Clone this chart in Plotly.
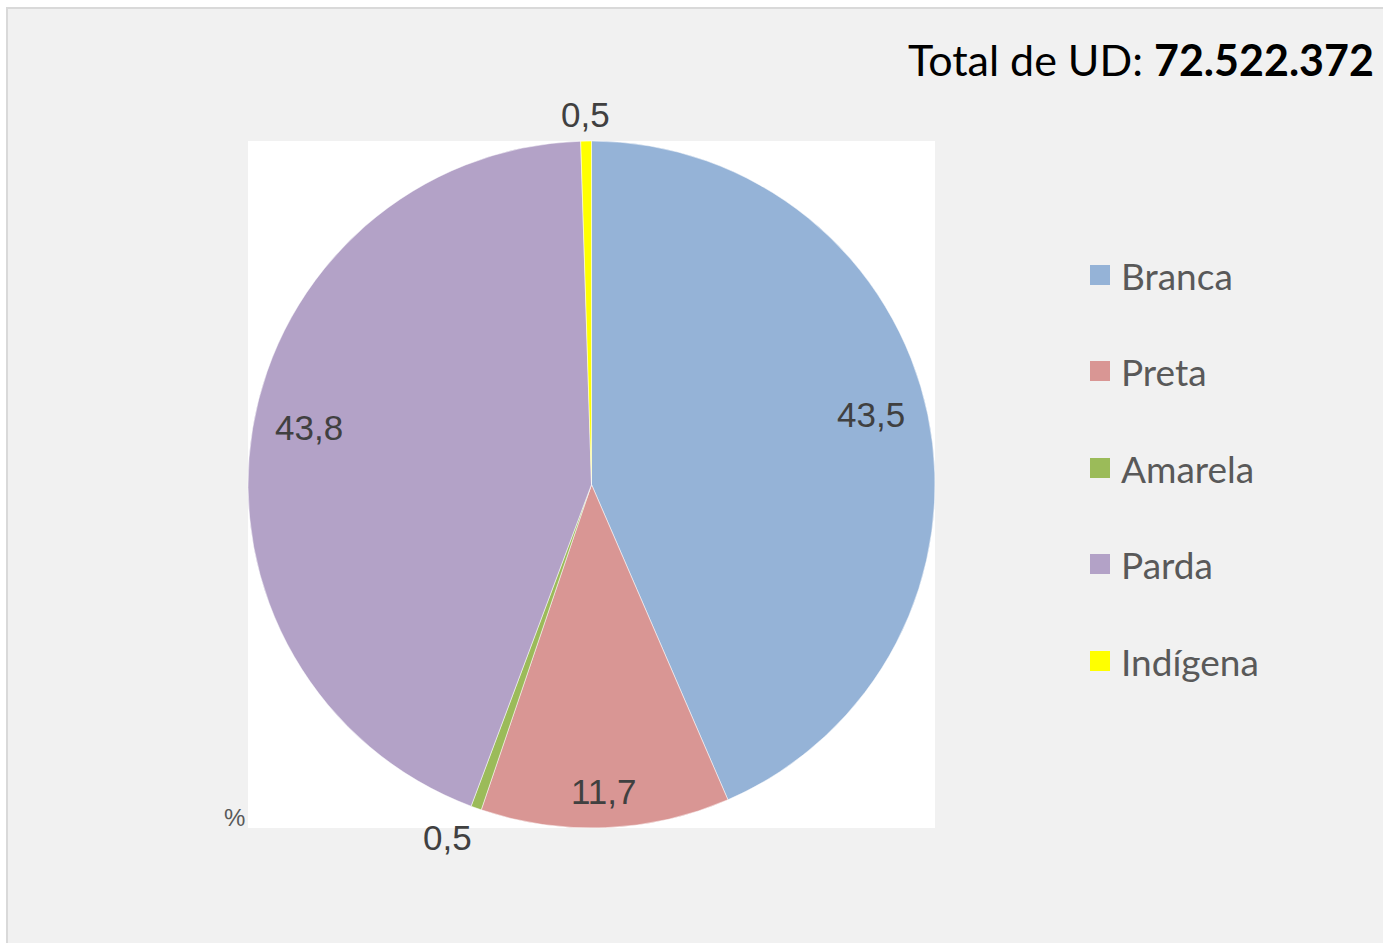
import math
import plotly.graph_objects as go

# ---- data ----
categories = ["Branca", "Preta", "Amarela", "Parda", "Indígena"]
values = [43.5, 11.7, 0.5, 43.8, 0.5]
value_labels = ["43,5", "11,7", "0,5", "43,8", "0,5"]
colors = ["#95b3d7", "#d99694", "#9bbb59", "#b3a2c7", "#ffff00"]
# data-label placement (style): radial factor and angular nudge in degrees
label_radius = [0.84, 0.895, 1.11, 0.84, 1.076]
label_nudge = [-2.3, 0.0, 2.5, 2.0, 0.0]
total_ud = "72.522.372"

W, H = 1383, 943
# pie box in page pixels
x0p, x1p, y0p, y1p = 248, 935, 141, 828

def px(x):
    return x / W

def py(y):
    return 1 - y / H

fig = go.Figure()
fig.add_trace(go.Pie(
    labels=categories,
    values=values,
    marker=dict(colors=colors, line=dict(color="white", width=0.5)),
    sort=False,
    direction="clockwise",
    rotation=0,
    textinfo="none",
    hoverinfo="label+value",
    showlegend=False,
    domain=dict(x=[px(x0p), px(x1p)], y=[py(y1p), py(y0p)]),
))

shapes = [
    # outer chart area
    dict(type="rect", xref="paper", yref="paper", x0=px(7), x1=1.05, y0=-0.05, y1=py(8),
         fillcolor="#f1f1f1", line=dict(color="#d9d9d9", width=2), layer="below"),
    # white plot area
    dict(type="rect", xref="paper", yref="paper", x0=px(x0p), x1=px(x1p), y0=py(y1p), y1=py(y0p),
         fillcolor="white", line=dict(width=0), layer="below"),
]

annotations = []
cx, cy = (x0p + x1p) / 2, (y0p + y1p) / 2
R = (x1p - x0p) / 2
tot = sum(values)
cum = 0
for v, lab, k, nd in zip(values, value_labels, label_radius, label_nudge):
    th = (cum + v / 2) / tot * 2 * math.pi + math.radians(nd)
    cum += v
    lx = cx + k * R * math.sin(th)
    ly = cy - k * R * math.cos(th)
    annotations.append(dict(x=px(lx), y=py(ly), xref="paper", yref="paper", text=lab,
                            showarrow=False, xanchor="center", yanchor="middle",
                            font=dict(family="Liberation Sans, Arial", size=35, color="#404040")))

# manual legend
leg_y = [275, 371, 468, 564, 661]
for c, name, yy in zip(colors, categories, leg_y):
    shapes.append(dict(type="rect", xref="paper", yref="paper",
                       x0=px(1090), x1=px(1110), y0=py(yy + 10), y1=py(yy - 10),
                       fillcolor=c, line=dict(width=0)))
    annotations.append(dict(x=px(1119), y=py(yy), xref="paper", yref="paper", text=name,
                            showarrow=False, xanchor="left", yanchor="middle",
                            font=dict(family="Lato", size=37, color="#595959")))

# title
annotations.append(dict(x=px(1376), y=py(59), xref="paper", yref="paper",
                        text="Total de UD: <b>" + total_ud + "</b>",
                        showarrow=False, xanchor="right", yanchor="middle",
                        font=dict(family="Lato", size=43, color="#000000")))
# unit
annotations.append(dict(x=px(234), y=py(817), xref="paper", yref="paper", text="%",
                        showarrow=False, xanchor="center", yanchor="middle",
                        font=dict(family="Liberation Sans, Arial", size=24, color="#595959")))

fig.update_layout(
    width=W, height=H,
    margin=dict(l=0, r=0, t=0, b=0),
    paper_bgcolor="white",
    plot_bgcolor="white",
    shapes=shapes,
    annotations=annotations,
)

fig.write_html(
    "out.html",
    config={"displayModeBar": False},
    post_script="document.body.style.margin='0';document.body.style.overflow='hidden';",
)
